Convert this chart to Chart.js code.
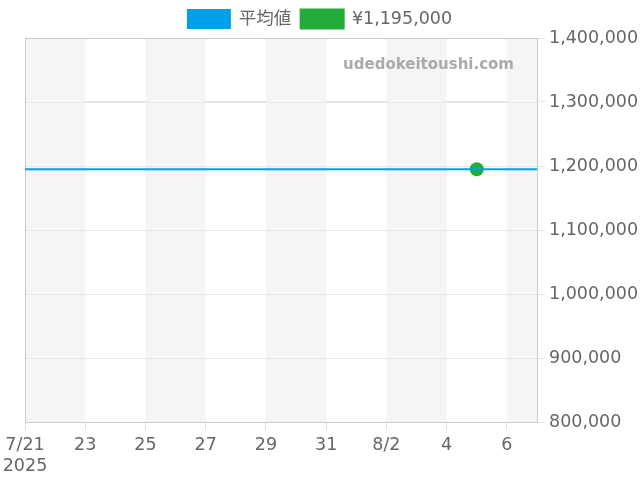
<!DOCTYPE html>
<html>
<head>
<meta charset="utf-8">
<script src="https://cdn.jsdelivr.net/npm/chart.js@4/dist/chart.umd.min.js"></script>
<style>
html,body{margin:0;padding:0;background:#fff;}
#wrap{width:640px;height:480px;}
</style>
</head>
<body>
<div id="wrap"><canvas id="c"></canvas></div>
<script>
// Days since 7/21/2025 (0 = 7/21, 17 = 8/7)
const dayMin = 0;
const dayMax = 17;
const tickLabels = ['7/21', '23', '25', '27', '29', '31', '8/2', '4', '6'];
const yearLabel = '2025';
const stripeStarts = [0, 4, 8, 12, 16];
const stripeWidth = 2;

const averageLabel = '平均値';
const averageValue = 1195000;
const priceLabel = '¥1,195,000';
const priceDays = [15];
const priceValues = [1195000];

const yMin = 800000, yMax = 1400000, yStep = 100000;

const FONT = "'DejaVu Sans', 'Noto Sans CJK JP', sans-serif";
const FS = 17.5;

const bgPlugin = {
  id: 'bg',
  beforeDatasetsDraw(chart) {
    const {ctx, chartArea: a, scales: {x}} = chart;
    ctx.save();
    ctx.fillStyle = '#f5f5f5';
    stripeStarts.forEach(s => {
      const x0 = Math.max(x.getPixelForValue(s), a.left);
      const x1 = Math.min(x.getPixelForValue(s + stripeWidth), a.right);
      ctx.fillRect(x0, a.top, x1 - x0, a.bottom - a.top);
    });
    const y = chart.scales.y;
    ctx.strokeStyle = '#e6e6e6';
    ctx.lineWidth = 1;
    y.ticks.forEach(t => {
      const py = Math.round(y.getPixelForValue(t.value)) + 0.5;
      ctx.beginPath(); ctx.moveTo(a.left, py); ctx.lineTo(a.right, py); ctx.stroke();
    });
    ctx.strokeStyle = '#cccccc';
    ctx.strokeRect(Math.round(a.left) + 0.5, Math.round(a.top) + 0.5, Math.round(a.right - a.left), Math.round(a.bottom - a.top));
    ctx.fillStyle = '#aaaaaa';
    ctx.font = "bold 15px " + FONT;
    ctx.textAlign = 'right';
    ctx.textBaseline = 'middle';
    ctx.fillText('udedokeitoushi.com', a.right - 23, a.top + 27);
    ctx.restore();
  }
};

new Chart(document.getElementById('c'), {
  type: 'line',
  data: {
    datasets: [
      {
        label: averageLabel,
        data: [{x: dayMin, y: averageValue}, {x: dayMax, y: averageValue}],
        borderColor: '#00a0e9',
        backgroundColor: '#00a0e9',
        borderWidth: 2,
        pointRadius: 0,
        fill: false
      },
      {
        label: priceLabel,
        data: priceDays.map((d, i) => ({x: d, y: priceValues[i]})),
        borderColor: '#22ac38',
        backgroundColor: '#22ac38',
        showLine: false,
        pointRadius: 7,
        pointBorderWidth: 0,
        pointHoverRadius: 7
      }
    ]
  },
  options: {
    responsive: true,
    maintainAspectRatio: false,
    animation: false,
    layout: {padding: {left: 0, right: 0, top: 0, bottom: 0}},
    plugins: {
      legend: {
        display: true,
        position: 'top',
        labels: {
          boxWidth: 42,
          boxHeight: 18,
          padding: 10,
          color: '#666',
          font: {family: FONT, size: FS}
        }
      },
      tooltip: {enabled: false}
    },
    scales: {
      x: {
        type: 'linear',
        min: dayMin,
        max: dayMax,
        afterBuildTicks: (s) => { s.ticks = s.ticks.filter(t => t.value % 2 === 0 && t.value / 2 < tickLabels.length); },
        afterFit: (s) => { s.height = 58; s.paddingLeft = 25; s.paddingRight = 0; },
        ticks: {
          stepSize: 2,
          autoSkip: false,
          maxRotation: 0,
          padding: 5,
          color: '#666',
          font: {family: FONT, size: FS},
          callback: (v) => {
            const i = v / 2;
            if (!Number.isInteger(i) || i >= tickLabels.length) return '';
            return i === 0 ? [tickLabels[0], yearLabel] : tickLabels[i];
          }
        },
        grid: {display: true, drawOnChartArea: false, drawTicks: true, tickLength: 8, color: '#dddddd'},
        border: {display: true, color: '#cccccc'}
      },
      y: {
        position: 'right',
        min: yMin,
        max: yMax,
        afterFit: (s) => { s.width = 103; },
        ticks: {
          stepSize: yStep,
          color: '#666',
          padding: 4,
          font: {family: FONT, size: FS},
          callback: (v) => v.toLocaleString('en-US')
        },
        grid: {color: '#e6e6e6', tickLength: 8},
        border: {display: true, color: '#cccccc'}
      }
    }
  },
  plugins: [bgPlugin]
});
</script>
</body>
</html>
